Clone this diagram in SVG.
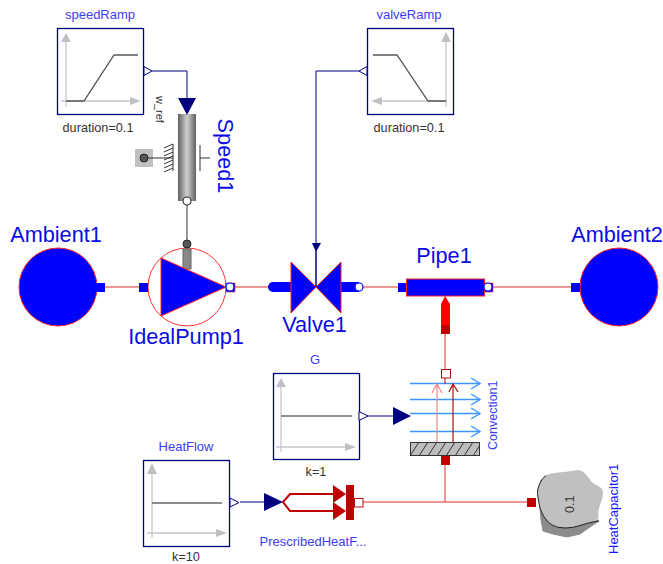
<svg xmlns="http://www.w3.org/2000/svg" width="663" height="564" viewBox="0 0 663 564">
<style>
text{font-family:"Liberation Sans",Arial,sans-serif}
.big{font-size:21.700px;fill:#0a0ae6;text-anchor:middle}
.name{font-size:13px;fill:#3c3cf0;text-anchor:middle}
.par{font-size:12.700px;fill:#333;text-anchor:middle}
.box{fill:#fff;stroke:#00007f;stroke-width:1.3}
.axis{fill:none;stroke:#c8c8c8;stroke-width:1.3}
.axh{fill:#c0c0c0}
.curve{fill:none;stroke:#555;stroke-width:1.3}
.sig{fill:none;stroke:#00007f;stroke-width:1}
.head{fill:#00007f}
.out{fill:#fff;stroke:#00007f;stroke-width:1}
.heat{fill:none;stroke:#e03030;stroke-width:1}
.blue{fill:#00f;stroke:#f22;stroke-width:1}
.port{fill:#00f}
.wh{fill:#fff;stroke:#00f;stroke-width:1.2}
.dred{fill:#bf0000}
.flow{fill:none;stroke:#3c96ff;stroke-width:1.400}
</style>
<defs>
<linearGradient id="cyl" x1="0" y1="0" x2="1" y2="0"><stop offset="0" stop-color="#606060"/><stop offset=".5" stop-color="#d0d0d0"/><stop offset="1" stop-color="#606060"/></linearGradient>
<pattern id="hatch" width="9" height="14" patternUnits="userSpaceOnUse" patternTransform="translate(410 442)"><rect width="9" height="14" fill="#bdbdbd"/><path d="M0 14L9 0" stroke="#333" stroke-width="1"/></pattern>
</defs>
<g id="connectors">
<path class="sig" d="M152 71H187V98"/>
<path class="sig" d="M359 71H316V287"/>
<path class="sig" d="M368 416H393"/>
<path class="sig" d="M240 502H265"/>
<path class="heat" d="M105 287H139M234 287H269M360 287H398M493 287H571M445 334V369M445 465V502M363 502H527"/>
<path d="M187 205V240" stroke="#555" stroke-width="1.2" fill="none"/>
</g>
<g id="speedRamp">
<text class="name" x="100" y="19">speedRamp</text>
<rect class="box" x="57.500" y="28.500" width="86" height="86"/>
<path class="axis" d="M66 40V107M61 101H132"/>
<path class="axh" d="M66 33L71 42H61ZM141 101L130 97V105Z"/>
<path class="curve" d="M66 101H84L114 55H138"/>
<path class="out" d="M144 66.500L152 71L144 75.500Z"/>
<text class="par" x="98" y="132">duration=0.1</text>
</g>
<g id="valveRamp">
<text class="name" x="409" y="19">valveRamp</text>
<rect class="box" x="367.500" y="28.500" width="86" height="86"/>
<path class="axis" d="M446 40V107M378 101H446"/>
<path class="axh" d="M446 32L451 42H441ZM371 101L382 97V105Z"/>
<path class="curve" d="M373 55H397L428 101H446"/>
<path class="out" d="M367 66.500L359 71L367 75.500Z"/>
<text class="par" x="409" y="132">duration=0.1</text>
</g>
<g id="Speed1">
<rect x="178" y="114" width="18" height="87" fill="url(#cyl)"/>
<path class="head" d="M178 98H196L187 115Z"/>
<rect x="135" y="149" width="18" height="18" fill="#c0c0c0"/>
<circle cx="144" cy="158" r="4" fill="#555" stroke="#222"/>
<path d="M148 158H173M173 144V171" stroke="#333" fill="none"/>
<path d="M164 148L173 144M164 152L173 148M164 156L173 152M164 160L173 156M164 164L173 160M164 168L173 164M164 172L173 168" stroke="#333" fill="none"/>
<path d="M200 145V171M200 158H210" stroke="#333" fill="none"/>
<circle cx="187" cy="201" r="4" fill="#fff" stroke="#333" stroke-width="1.2"/>
<text class="big" transform="translate(217.500 156) rotate(90)">Speed1</text>
<text transform="translate(156 96) rotate(90)" font-size="11" fill="#333">w_ref</text>
</g>
<g id="Ambient1">
<text class="big" x="56" y="242">Ambient1</text>
<circle class="blue" cx="58" cy="287" r="39"/>
<rect class="port" x="96" y="283" width="9" height="9"/>
</g>
<g id="IdealPump1">
<circle cx="187" cy="287" r="39" fill="#fff" stroke="#f33"/>
<rect x="183" y="249" width="8" height="20" fill="#888" stroke="#666"/>
<circle cx="187" cy="244" r="4" fill="#555" stroke="#222"/>
<rect class="port" x="139" y="283" width="9" height="9"/>
<path class="blue" d="M161 258V316L226 287Z"/>
<rect x="226" y="283" width="9" height="9" fill="#00f" stroke="#f33" stroke-width=".6"/>
<circle class="wh" cx="230" cy="287" r="4"/>
<text class="big" x="186" y="344">IdealPump1</text>
</g>
<g id="Valve1">
<path class="port" d="M273 282H291V292H273A5 5 0 0 1 273 282Z"/>
<rect class="port" x="341" y="282" width="18" height="10"/>
<path class="blue" d="M291 262V313L316 287ZM341 262V313L316 287Z"/>
<path class="sig" d="M316 252V287"/>
<path class="head" d="M312 243H321L316 252Z"/>
<circle class="wh" cx="359" cy="287" r="4"/>
<text class="big" x="314.500" y="332">Valve1</text>
</g>
<g id="Pipe1">
<text class="big" x="444" y="263">Pipe1</text>
<rect class="port" x="398" y="283" width="9" height="9"/>
<rect x="484" y="283" width="9" height="9" fill="#00f" stroke="#f33" stroke-width=".6"/>
<rect class="blue" x="406.500" y="279" width="78" height="17"/>
<circle class="wh" cx="488" cy="287" r="4"/>
<path d="M441 304L445 296L450 304V326H441Z" fill="#f00"/>
<rect class="dred" x="441" y="325" width="9" height="9"/>
</g>
<g id="Ambient2">
<text class="big" x="617" y="242">Ambient2</text>
<circle class="blue" cx="619" cy="287" r="39"/>
<rect class="port" x="571" y="283" width="9" height="9"/>
</g>
<g id="G">
<text class="name" x="315" y="364">G</text>
<rect class="box" x="273.500" y="373.500" width="86" height="86"/>
<path class="axis" d="M281 385V452M276 447H346"/>
<path class="axh" d="M281 378L286 387H276ZM356 447L345 443V451Z"/>
<path d="M281 416H352" fill="none" stroke="#222" stroke-width="1.2"/>
<path class="out" d="M359 411.500L368 416L359 420.500Z"/>
<text class="par" x="316" y="476">k=1</text>
</g>
<g id="Convection1">
<rect x="441.500" y="369.500" width="9" height="8.500" fill="#fff" stroke="#b01010"/>
<path class="flow" d="M410 383.500H480M410 399.500H480M410 413.500H480M410 431.500H480"/>
<path class="flow" d="M471 378L480 383.500L471 389M471 394L480 399.500L471 405M471 408L480 413.500L471 419M471 426L480 431.500L471 437"/>
<path d="M437 442V384M432 393L437 384L442 393" fill="none" stroke="#e88" stroke-width="1.2"/>
<path d="M453 442V384M449 392L453 384L458 392" fill="none" stroke="#b01010" stroke-width="1.2"/>
<path d="M445 378V384" stroke="#b01010"/>
<rect x="410.500" y="442.500" width="69" height="13" fill="url(#hatch)" stroke="#333"/>
<rect class="dred" x="441" y="456" width="9" height="9"/>
<path class="head" d="M393 407L411 416L393 425Z"/>
<text transform="translate(497 450) rotate(-90)" font-size="12.500" fill="#3c3cf0">Convection1</text>
</g>
<g id="HeatFlow">
<text class="name" x="186" y="451">HeatFlow</text>
<rect class="box" x="143.500" y="460.500" width="86" height="86"/>
<path class="axis" d="M152 472V538M147 533H218"/>
<path class="axh" d="M152 463L157 474H147ZM227 533L216 529V537Z"/>
<path d="M152 503H222" fill="none" stroke="#666" stroke-width="1.300"/>
<path class="out" d="M230 498L239 502.500L230 507Z"/>
<text class="par" x="186" y="561">k=10</text>
</g>
<g id="PrescribedHeatFlow">
<path d="M335 494H290L283 502L290 511H335" fill="none" stroke="#bf0000" stroke-width="2"/>
<path class="head" d="M264 493L283 502L264 511Z"/>
<path class="dred" d="M333 485L346 494L333 503ZM346 485H354V520H346ZM333 502L346 511L333 520Z"/>
<rect x="354.500" y="498.500" width="8.500" height="8.500" fill="#fff" stroke="#b01010"/>
<text class="name" x="313" y="546">PrescribedHeatF...</text>
</g>
<g id="HeatCapacitor1">
<path d="M541 480L539 497L541 520L543 531L553 534L567 537L580 534L590 527L599 521L580 510L550 500Z" fill="#8c8c8c" stroke="#8c8c8c" stroke-linejoin="round"/>
<path d="M539.500 484Q542 478 546 475.500Q550 473 558.500 472.500Q567 472 573.500 470.500Q580 469 583.500 472Q587 475 589.500 479Q592 483 597.500 485.500Q603 488 603 492.500Q603 497 600.500 503.500Q598 510 598.500 515.500Q599 521 593 522Q587 523 580 525.500Q573 528 565 528Q557 528 552 525Q547 522 543.500 516Q540 510 539 503.500Q538 497 537.500 493.500Q537 490 539.500 484Z" fill="#c0c0c0"/>
<path d="M546 475.500Q542 478 539.500 484Q537 490 537.500 493.500Q538 497 539 503.500Q540 510 543.500 516Q547 522 552 525Q557 528 565 528Q573 528 580 525.500Q587 523 593 522L599 521" fill="none" stroke="#222" stroke-width="1"/>
<rect class="dred" x="527" y="498" width="9" height="9"/>
<text transform="translate(574 513) rotate(-90)" font-size="12.500" fill="#333">0.1</text>
<text transform="translate(618 554) rotate(-90)" font-size="13" fill="#1a1aff">HeatCapacitor1</text>
</g>
</svg>
